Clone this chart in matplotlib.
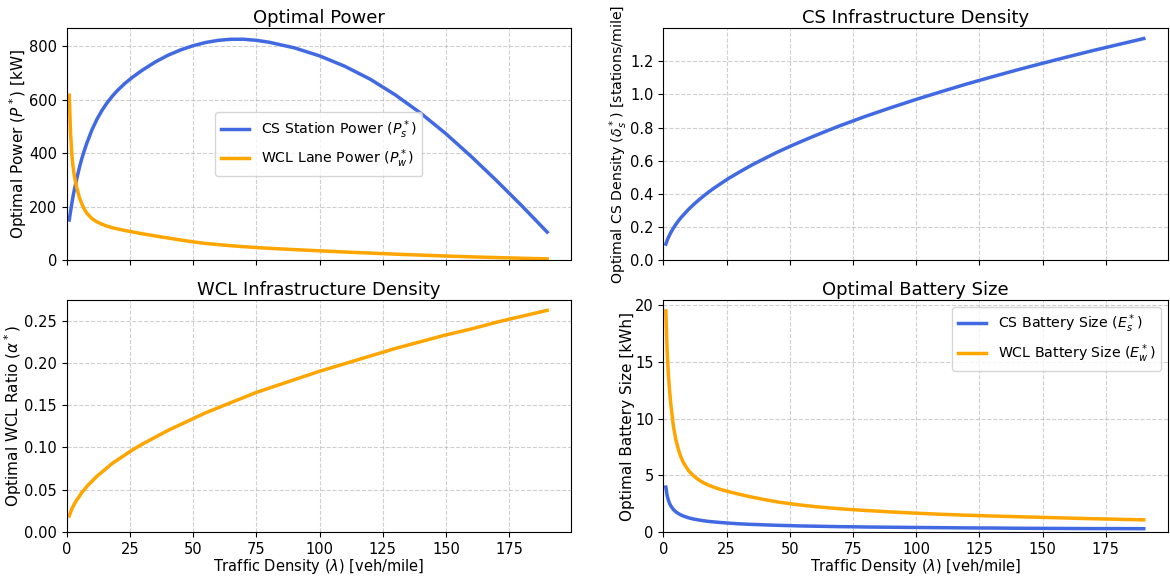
import matplotlib
matplotlib.use("Agg")
import matplotlib.pyplot as plt

# traffic density samples (veh/mile)
lam = [1, 1.5, 2, 2.5, 3, 4, 5, 6, 7, 8, 10, 12, 14, 16, 18, 20, 23, 26, 30, 35,
       40, 45, 50, 55, 60, 65, 70, 75, 80, 90, 100, 110, 120, 130, 140, 150, 160,
       170, 180, 190]

# optimal power [kW]
p_station = [150, 180, 210, 238, 262, 305, 345, 380, 410, 438, 487, 527, 560, 588,
             612, 633, 660, 683, 710, 740, 765, 785, 801, 813, 821, 825, 825, 821,
             814, 793, 763, 724, 676, 617, 549, 472, 387, 297, 203, 105]
p_lane = [616, 480, 400, 350, 316, 270, 235, 210, 190, 175, 155, 143, 134, 127,
          121.5, 117, 111, 105.5, 98.5, 90.5, 83, 75.5, 68.5, 62.5, 58, 54, 50.5,
          47.2, 44.5, 39.5, 35, 30.5, 26.5, 22.5, 19, 15.5, 12.5, 9.8, 7.3, 5]

# CS density [stations/mile]
cs_density = [0.097, 0.119, 0.137, 0.153, 0.168, 0.194, 0.217, 0.238, 0.257, 0.274,
              0.307, 0.336, 0.363, 0.388, 0.412, 0.434, 0.465, 0.495, 0.531, 0.574,
              0.613, 0.651, 0.686, 0.719, 0.751, 0.782, 0.812, 0.840, 0.868, 0.920,
              0.970, 1.017, 1.063, 1.106, 1.148, 1.188, 1.227, 1.265, 1.301, 1.337]

# WCL ratio
wcl_ratio = [0.019, 0.023, 0.027, 0.030, 0.033, 0.038, 0.042, 0.047, 0.050, 0.054,
             0.060, 0.066, 0.071, 0.076, 0.081, 0.085, 0.091, 0.097, 0.104, 0.112,
             0.120, 0.127, 0.134, 0.141, 0.147, 0.153, 0.159, 0.165, 0.170, 0.180,
             0.190, 0.199, 0.208, 0.217, 0.225, 0.233, 0.240, 0.248, 0.255, 0.262]

# battery size [kWh]
e_station = [3.96, 3.23, 2.80, 2.50, 2.29, 1.98, 1.77, 1.62, 1.50, 1.40, 1.25, 1.14,
             1.06, 0.99, 0.93, 0.89, 0.83, 0.78, 0.72, 0.67, 0.63, 0.59, 0.56, 0.53,
             0.51, 0.49, 0.47, 0.46, 0.44, 0.42, 0.40, 0.38, 0.36, 0.35, 0.33, 0.32,
             0.31, 0.30, 0.30, 0.29]
e_lane = [19.5, 16.0, 13.9, 12.4, 11.2, 9.3, 8.1, 7.25, 6.6, 6.1, 5.4, 4.95, 4.6,
          4.33, 4.12, 3.95, 3.73, 3.55, 3.33, 3.08, 2.86, 2.66, 2.5, 2.36, 2.24,
          2.14, 2.05, 1.97, 1.9, 1.77, 1.66, 1.56, 1.48, 1.41, 1.35, 1.29, 1.23,
          1.17, 1.12, 1.07]

blue = "royalblue"
orange = "orange"
lw = 2.5

fig, axes = plt.subplots(2, 2, figsize=(11.7, 5.77), sharex=True)
ax1, ax2, ax3, ax4 = axes.flatten()

# Optimal power
ax1.plot(lam, p_station, color=blue, lw=lw, label=r"CS Station Power ($P_s^*$)")
ax1.plot(lam, p_lane, color=orange, lw=lw, label=r"WCL Lane Power ($P_w^*$)")
ax1.set_title("Optimal Power", fontsize=13, pad=4)
ax1.set_ylabel(r"Optimal Power ($P^*$) [kW]", fontsize=11, labelpad=0)
ax1.set_ylim(bottom=0)
ax1.legend(loc="center", fontsize=10.2)

# CS density
ax2.plot(lam, cs_density, color=blue, lw=lw)
ax2.set_title("CS Infrastructure Density", fontsize=13, pad=4)
ax2.set_ylabel(r"Optimal CS Density ($\delta_s^*$) [stations/mile]", fontsize=10.2,
               labelpad=0)
ax2.set_ylim(bottom=0)

# WCL density
ax3.plot(lam, wcl_ratio, color=orange, lw=lw)
ax3.set_title("WCL Infrastructure Density", fontsize=13, pad=4)
ax3.set_ylabel(r"Optimal WCL Ratio ($\alpha^*$)", fontsize=11, labelpad=0)
ax3.set_ylim(bottom=0)

# Battery size
ax4.plot(lam, e_station, color=blue, lw=lw, label=r"CS Battery Size ($E_s^*$)")
ax4.plot(lam, e_lane, color=orange, lw=lw, label=r"WCL Battery Size ($E_w^*$)")
ax4.set_title("Optimal Battery Size", fontsize=13, pad=4)
ax4.set_ylabel("Optimal Battery Size [kWh]", fontsize=11, labelpad=0)
ax4.set_ylim(bottom=0)
ax4.legend(loc="upper right", fontsize=10.2)

for ax in axes.flatten():
    ax.grid(True, linestyle="--", alpha=0.6)
    ax.tick_params(labelsize=10.5)
    ax.set_xlim(left=0)
for ax in axes[1]:
    ax.set_xlabel(r"Traffic Density ($\lambda$) [veh/mile]", fontsize=10.5, labelpad=0)

plt.subplots_adjust(left=0.057, right=0.998, bottom=0.078, top=0.951,
                    wspace=0.183, hspace=0.172)
plt.savefig("out.png", dpi=100)
